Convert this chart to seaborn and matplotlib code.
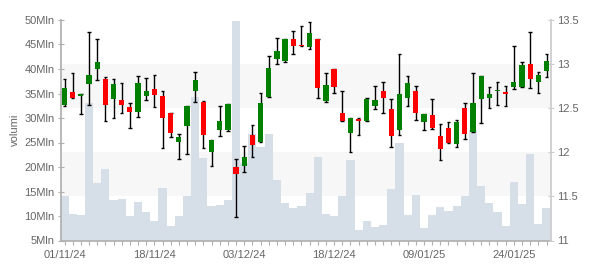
import numpy as np
import pandas as pd
import matplotlib
matplotlib.use("Agg")
import matplotlib.pyplot as plt
import matplotlib.transforms as mtransforms
from matplotlib.patches import Rectangle
import seaborn as sns

# ---------------- data ----------------
dates = [
    "01/11/24", "04/11/24", "05/11/24", "06/11/24", "07/11/24", "08/11/24", "11/11/24", "12/11/24",
    "13/11/24", "14/11/24", "15/11/24", "18/11/24", "19/11/24", "20/11/24", "21/11/24", "22/11/24",
    "25/11/24", "26/11/24", "27/11/24", "28/11/24", "29/11/24",
    "02/12/24", "03/12/24", "04/12/24", "05/12/24", "06/12/24", "09/12/24", "10/12/24", "11/12/24",
    "12/12/24", "13/12/24", "16/12/24", "17/12/24", "18/12/24", "19/12/24", "20/12/24", "23/12/24",
    "27/12/24", "30/12/24",
    "02/01/25", "03/01/25", "06/01/25", "07/01/25", "08/01/25", "09/01/25", "10/01/25", "13/01/25",
    "14/01/25", "15/01/25", "16/01/25", "17/01/25", "20/01/25", "21/01/25", "22/01/25", "23/01/25",
    "24/01/25", "27/01/25", "28/01/25", "29/01/25", "30/01/25",
]
open_ = [12.54, 12.68, 12.64, 12.78, 12.95, 12.83, 12.60, 12.59, 12.51, 12.46,
         12.64, 12.72, 12.64, 12.45, 12.12, 12.30, 12.69, 12.57, 12.00, 12.25,
         12.25, 11.83, 11.85, 12.20, 12.12, 12.63, 13.06, 13.03, 13.29, 13.22,
         13.19, 13.28, 12.58, 12.94, 12.45, 12.22, 12.38, 12.35, 12.53, 12.70,
         12.49, 12.25, 12.62, 12.70, 12.34, 12.42, 12.18, 12.27, 12.09, 12.50,
         12.23, 12.60, 12.61, 12.69, 12.68, 12.74, 12.74, 13.00, 12.80, 12.92]
close = [12.73, 12.61, 12.66, 12.88, 13.02, 12.54, 12.77, 12.54, 12.46, 12.79,
         12.70, 12.65, 12.39, 12.22, 12.17, 12.52, 12.82, 12.20, 12.14, 12.35,
         12.55, 11.75, 11.95, 12.08, 12.56, 12.96, 13.15, 13.28, 13.20, 13.20,
         13.35, 12.73, 12.76, 12.74, 12.36, 12.39, 12.35, 12.60, 12.59, 12.62,
         12.18, 12.66, 12.79, 12.45, 12.43, 12.28, 12.04, 12.10, 12.34, 12.21,
         12.56, 12.86, 12.66, 12.71, 12.66, 12.80, 12.99, 12.83, 12.88, 13.04]
high = [12.83, 12.90, 12.66, 13.36, 13.28, 12.85, 12.83, 12.79, 12.56, 12.87,
        12.84, 12.88, 12.70, 12.45, 12.21, 12.52, 12.91, 12.58, 12.14, 12.52,
        12.55, 11.92, 12.07, 12.31, 12.67, 13.09, 13.30, 13.28, 13.38, 13.43,
        13.48, 13.29, 12.90, 12.94, 12.70, 12.39, 12.39, 12.61, 12.75, 12.80,
        12.60, 13.12, 12.87, 12.75, 12.43, 12.60, 12.32, 12.34, 12.37, 12.56,
        12.90, 12.86, 12.74, 12.80, 12.75, 13.20, 13.02, 13.36, 12.91, 13.12]
low = [12.52, 12.61, 12.43, 12.54, 12.82, 12.35, 12.39, 12.45, 12.28, 12.40,
       12.59, 12.51, 12.05, 12.17, 11.92, 11.98, 12.57, 12.05, 11.84, 12.19,
       12.24, 11.27, 11.78, 11.95, 12.12, 12.63, 13.00, 13.02, 13.11, 13.20,
       13.17, 12.61, 12.57, 12.67, 12.36, 12.00, 12.20, 12.35, 12.49, 12.44,
       12.06, 12.20, 12.52, 12.37, 12.25, 12.26, 11.91, 12.10, 12.06, 12.15,
       12.23, 12.33, 12.50, 12.54, 12.52, 12.72, 12.74, 12.73, 12.67, 12.85]
volume_mln = [14.0, 10.5, 10.3, 33.0, 16.7, 19.5, 13.3, 13.5, 9.9, 12.8,
              10.9, 8.9, 15.8, 7.9, 9.9, 14.0, 34.3, 21.8, 12.0, 12.2,
              13.2, 49.8, 20.8, 26.7, 24.0, 26.7, 17.3, 12.6, 11.6, 12.0,
              14.6, 22.0, 10.5, 10.1, 14.0, 21.4, 7.1, 8.9, 7.7, 8.1,
              15.6, 24.8, 10.3, 14.2, 7.5, 10.3, 11.8, 11.0, 12.0, 14.0,
              27.5, 16.1, 12.6, 10.9, 7.9, 16.9, 12.4, 22.6, 8.4, 11.6]
tick_labels = ["01/11/24", "18/11/24", "03/12/24", "18/12/24", "09/01/25", "24/01/25"]
vol_ticks = [5, 10, 15, 20, 25, 30, 35, 40, 45, 50]
price_ticks = [11, 11.5, 12, 12.5, 13, 13.5]
price_bands = [(11.5, 12.0), (12.5, 13.0)]

# ---------------- style ----------------
sns.set_theme(style="white")
plt.rcParams["font.family"] = ["Liberation Sans", "DejaVu Sans"]
TXT = "#666666"
AXC = "#b0b0b0"
BAR = "#d6dfe8"
UP, DOWN = "#008000", "#ff0000"

fig = plt.figure(figsize=(6, 2.7), dpi=100)
ax = fig.add_axes([61 / 600, 1 - 240.5 / 270, 490 / 600, 220.5 / 270])
ax2 = ax.twinx()

n = len(dates)
idx = np.arange(n)
df = pd.DataFrame({"idx": idx, "vol": volume_mln, "date": dates,
                   "open": open_, "close": close, "high": high, "low": low})

# alternate bands (in price coordinates, behind the volume bars)
tr = mtransforms.blended_transform_factory(ax.transAxes, ax2.transData)
for lo, hi in price_bands:
    ax.add_patch(Rectangle((0, lo), 1, hi - lo, transform=tr,
                           facecolor="#f7f7f7", lw=0, zorder=0.5))

# volume bars
sns.barplot(data=df, x="idx", y="vol", ax=ax, color=BAR, width=1.0,
            saturation=1, linewidth=0, native_scale=True, zorder=2)

# candlesticks
o = df["open"].to_numpy(); c = df["close"].to_numpy()
colors = [UP if cc >= oo else DOWN for oo, cc in zip(o, c)]
ax2.vlines(idx, df["low"], df["high"], color="black", lw=1.0, zorder=3)
ax2.hlines(df["high"], idx - 0.22, idx + 0.22, color="black", lw=1.0, zorder=3)
ax2.hlines(df["low"], idx - 0.22, idx + 0.22, color="black", lw=1.0, zorder=3)
ax2.bar(idx, np.abs(c - o), bottom=np.minimum(o, c), width=0.64,
        color=colors, lw=0, zorder=4)

# axes
ax.set_xlim(-0.43, 59.55)
ax2.set_xlim(-0.43, 59.55)
ax.set_ylim(5, 50)
ax2.set_ylim(11, 13.5)

pos = [dates.index(t) for t in tick_labels]
ax.set_xticks(pos)
ax.set_xticklabels(tick_labels)
ax.set_xticks(idx, minor=True)
ax.set_xlabel("")
ax.set_yticks(vol_ticks)
ax.set_yticklabels([f"{v}Mln" for v in vol_ticks])
ax.set_ylabel("volumi", color=TXT, fontsize=8, labelpad=3)
ax2.set_yticks(price_ticks)
ax2.set_yticklabels([f"{v:g}" for v in price_ticks])

for a in (ax, ax2):
    for s in a.spines.values():
        s.set_visible(False)
    a.grid(False)
ax.spines["left"].set_visible(True)
ax.spines["left"].set_color(AXC)
ax.spines["bottom"].set_visible(True)
ax.spines["bottom"].set_color(AXC)
ax2.spines["right"].set_visible(True)
ax2.spines["right"].set_color("#cccccc")

ax.tick_params(axis="x", which="both", direction="out", length=3, width=0.8,
               color=AXC, labelsize=8, labelcolor=TXT, pad=4, bottom=True)
ax.tick_params(axis="y", direction="inout", length=5, width=0.8, color=AXC,
               labelsize=8, labelcolor=TXT, pad=2, left=True)
ax2.tick_params(axis="y", direction="inout", length=5, width=0.8, color="#cccccc",
                labelsize=8, labelcolor=TXT, pad=2, right=True)

fig.savefig("out.png", dpi=100)
